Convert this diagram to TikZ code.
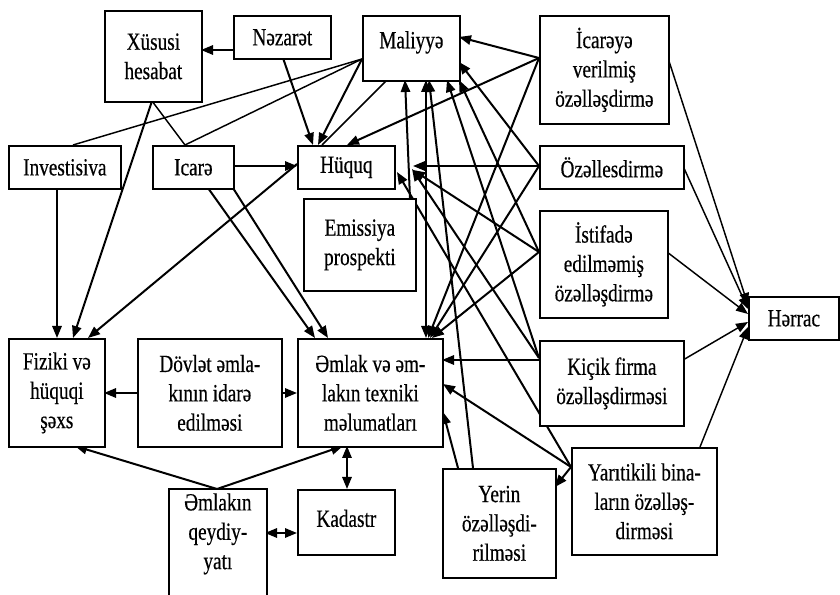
\documentclass[tikz,border=0pt]{standalone}
\usepackage{fontspec}
\setmainfont{Liberation Serif}[FakeStretch=0.78,FakeBold=0.4]
\usetikzlibrary{arrows.meta}
\pgfdeclarelayer{back}
\pgfdeclarelayer{lines}
\pgfsetlayers{back,lines,main}
\tikzset{
 x=0.75pt, y=-0.75pt,
 box/.style={draw, line width=1.3pt, fill=white, align=center, inner sep=0pt,
   font=\fontsize{18.5pt}{22pt}\selectfont},
 con/.style={line width=1.1pt},
 tip/.tip={Triangle[length=9pt,width=7pt]},
 arr/.style={line width=1.5pt, -tip},
 tarr/.style={line width=1.1pt, -tip},
 darr/.style={line width=1.5pt, tip-tip},
}
\newcommand\mybox[6]{\node[box,anchor=north west,minimum width={(#4-#2)*0.75pt},minimum height={(#5-#3)*0.75pt}] (#1) at (#2,#3) {#6};}
\begin{document}
\begin{tikzpicture}
\begin{pgfonlayer}{back}
\fill[white] (0,0) rectangle (840,595);
\end{pgfonlayer}
\useasboundingbox (0,0) rectangle (840,595);

\mybox{xus}{104}{10}{201}{101}{Xüsusi\\hesabat}
\mybox{nez}{233}{15}{330}{58}{Nəzarət}
\mybox{mal}{362}{15}{459}{80}{\raisebox{4.5pt}[\height][\depth]{Maliyyə}}
\mybox{ica}{539}{15}{668}{123}{İcarəyə\\verilmiş\\özəlləşdirmə}
\mybox{oze}{539}{145}{683}{188}{Özəllesdirmə}
\mybox{ist}{539}{210}{667}{317}{İstifadə\\edilməmiş\\özəlləşdirmə}
\mybox{her}{748}{296}{838}{339}{Hərrac}
\mybox{kic}{539}{340}{683}{425}{Kiçik firma\\özəlləşdirməsi}
\mybox{yar}{571}{447}{716}{554}{Yarıtikili bina-\\ların özəlləş-\\dirməsi}
\mybox{yer}{442}{468}{555}{577}{Yerin\\özəlləşdi-\\rilməsi}
\mybox{eml}{297}{338}{442}{446}{Əmlak və əm-\\lakın texniki\\məlumatları}
\mybox{dov}{137}{338}{281}{446}{Dövlət əmla-\\kının idarə\\edilməsi}
\mybox{fiz}{8}{338}{104}{446}{Fiziki və\\hüquqi\\şəxs}
\mybox{kad}{297}{489}{394}{554}{\raisebox{3pt}[\height][\depth]{Kadastr}}
\mybox{inv}{8}{145}{120}{188}{Investisiva}
\mybox{icr}{152}{145}{233}{188}{Icarə}
\mybox{huq}{297}{145}{394}{188}{Hüquq}
\mybox{emi}{303}{198}{415}{290}{Emissiya\\prospekti}
\node[box,draw=none,anchor=north west,minimum width={96*0.75pt},minimum height={88*0.75pt}] (qey) at (169,489) {Əmlakın\\qeydiy-\\yatı};
\draw[line width=1.3pt] ([shift={(0,40)}]qey.south west) -- (qey.north west) -- (qey.north east) -- ([shift={(0,40)}]qey.south east);

\begin{pgfonlayer}{lines}
% top left
\draw[arr] ([shift={(0,35)}]nez.north west) -- ([shift={(97,40)}]xus.north west);
\draw[arr] ([shift={(50,43)}]nez.north west) -- ([shift={(16,0)}]huq.north west);
\draw[arr] ([shift={(0,44)}]mal.north west) -- ([shift={(21,0)}]huq.north west);
\draw[con] ([shift={(0,44)}]mal.north west) -- ([shift={(65,0)}]inv.north west);
\draw[con] ([shift={(0,44)}]mal.north west) -- ([shift={(33,0)}]icr.north west);
\draw[con] ([shift={(25,65)}]mal.north west) -- ([shift={(25,0)}]huq.north west);
\draw[con] ([shift={(48,91)}]xus.north west) -- ([shift={(33,0)}]icr.north west);
\draw[arr] ([shift={(48,91)}]xus.north west) -- ([shift={(65,0)}]fiz.north west);
\draw[arr] ([shift={(49,43)}]inv.north west) -- ([shift={(49,0)}]fiz.north west);
\draw[arr] ([shift={(0,19)}]huq.north west) -- ([shift={(80,0)}]fiz.north west);
\draw[arr] ([shift={(81,21)}]icr.north west) -- ([shift={(0,21)}]huq.north west);
\draw[arr] ([shift={(56,43)}]icr.north west) -- ([shift={(18,0)}]eml.north west);
\draw[arr] ([shift={(81,43)}]icr.north west) -- ([shift={(31,0)}]eml.north west);
% from Icareye verilmis
\draw[arr] ([shift={(0,43)}]ica.north west) -- ([shift={(97,22)}]mal.north west);
\draw[arr] ([shift={(0,43)}]ica.north west) -- ([shift={(50,0)}]huq.north west);
\draw[arr] ([shift={(0,43)}]ica.north west) -- ([shift={(131,0)}]eml.north west);
% from Ozellesdirme
\draw[arr] ([shift={(0,21)}]oze.north west) -- ([shift={(97,47)}]mal.north west);
\draw[arr] ([shift={(0,21)}]oze.north west) -- ([shift={(116,21)}]huq.north west);
\draw[arr] ([shift={(0,21)}]oze.north west) -- ([shift={(133,0)}]eml.north west);
% from Istifade
\draw[arr] ([shift={(0,42)}]ist.north west) -- ([shift={(116,25)}]huq.north west);
\draw[arr] ([shift={(0,42)}]ist.north west) -- ([shift={(135,0)}]eml.north west);
\draw[arr] ([shift={(0,42)}]ist.north west) -- ([shift={(97,65)}]mal.north west);
% from Kicik firma
\draw[arr] ([shift={(0,20)}]kic.north west) -- ([shift={(145,22)}]eml.north west);
\draw[arr] ([shift={(0,18)}]kic.north west) -- ([shift={(115,24)}]huq.north west);
\draw[arr] ([shift={(0,18)}]kic.north west) -- ([shift={(85,65)}]mal.north west);
% from Yaritikili
\draw[arr] ([shift={(0,20)}]yar.north west) -- ([shift={(100,27)}]huq.north west);
\draw[arr] ([shift={(0,20)}]yar.north west) -- ([shift={(146,46)}]eml.north west);
\draw[arr] ([shift={(0,20)}]yar.north west) -- ([shift={(113,19)}]yer.north west);
% from Yerin
\draw[arr] ([shift={(16,0)}]yer.north west) -- ([shift={(146,74)}]eml.north west);
\draw[arr] ([shift={(31,0)}]yer.north west) -- ([shift={(67,65)}]mal.north west);
% Emlak - Maliyye, Emissiya - Maliyye
\draw[darr] ([shift={(129,0)}]eml.north west) -- ([shift={(64,65)}]mal.north west);
\draw[arr] ([shift={(107,0)}]emi.north west) -- ([shift={(43,65)}]mal.north west);
% to Herrac
\draw[tarr] ([shift={(129,43)}]ica.north west) -- ([shift={(0,9)}]her.north west);
\draw[tarr] ([shift={(144,21)}]oze.north west) -- ([shift={(0,13)}]her.north west);
\draw[tarr] ([shift={(128,42)}]ist.north west) -- ([shift={(0,18)}]her.north west);
\draw[tarr] ([shift={(144,20)}]kic.north west) -- ([shift={(0,26)}]her.north west);
\draw[tarr] ([shift={(129,0)}]yar.north west) -- ([shift={(0,31)}]her.north west);
% bottom
\draw[arr] ([shift={(0,55)}]dov.north west) -- ([shift={(96,55)}]fiz.north west);
\draw[arr] ([shift={(144,55)}]dov.north west) -- ([shift={(0,55)}]eml.north west);
\draw[arr] ([shift={(48,0)}]qey.north west) -- ([shift={(67,108)}]fiz.north west);
\draw[arr] ([shift={(48,0)}]qey.north west) -- ([shift={(46,108)}]eml.north west);
\draw[darr] ([shift={(50,108)}]eml.north west) -- ([shift={(50,0)}]kad.north west);
\draw[darr] ([shift={(96,44)}]qey.north west) -- ([shift={(0,44)}]kad.north west);
\end{pgfonlayer}
\end{tikzpicture}
\end{document}
